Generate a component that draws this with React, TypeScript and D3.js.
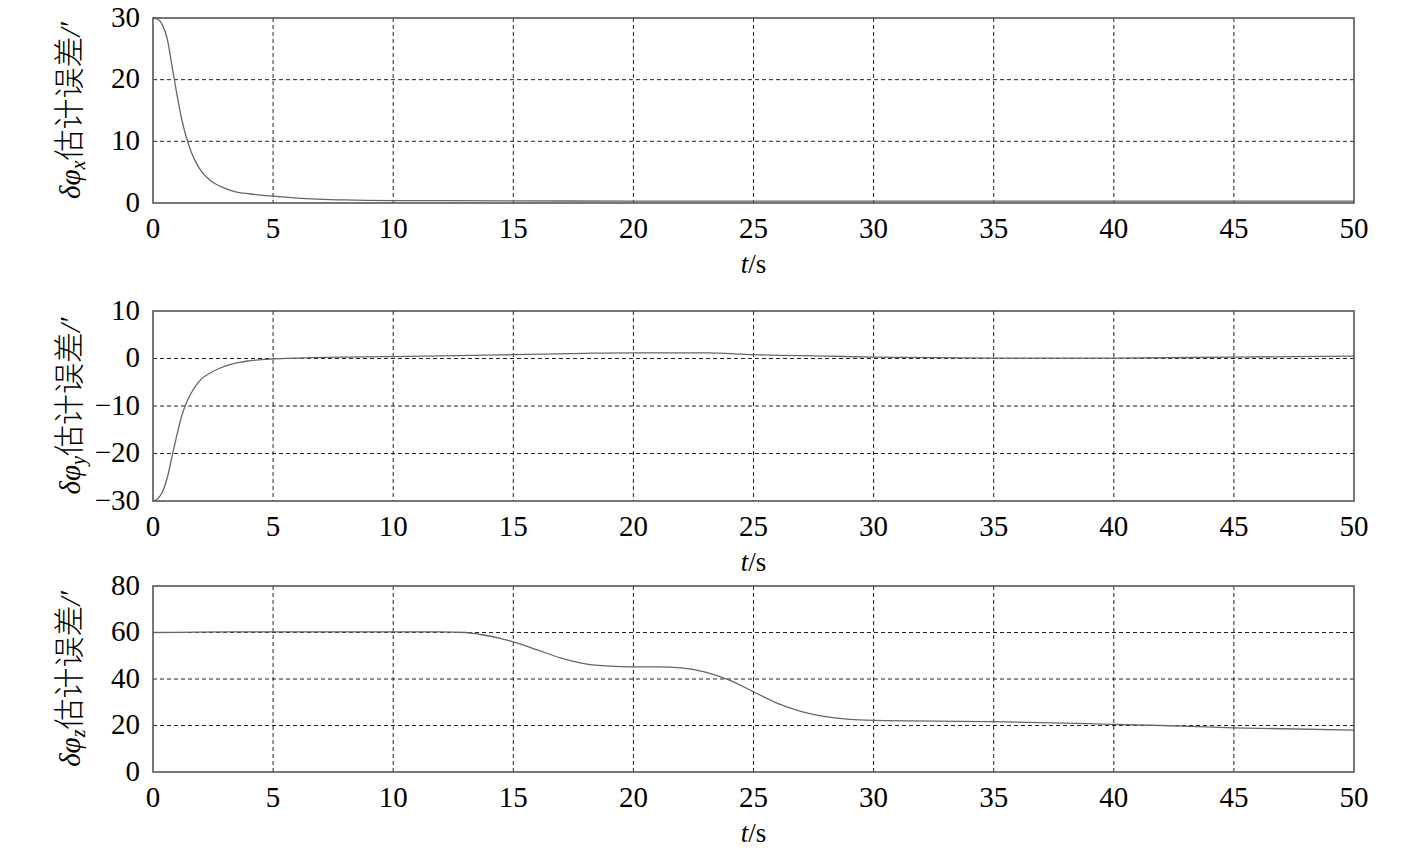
import React from 'react';
import * as d3 from 'd3';

// 时间轴 (s) 与三个失准角估计误差 (′)
const tX = [0, 0.2, 0.4, 0.6, 0.8, 1.0, 1.2, 1.4, 1.6, 1.8, 2.0, 2.4, 2.8, 3.2, 3.6, 4, 5, 6, 8, 10, 15, 20, 30, 40, 50];
const phiX = [30, 29.8, 28.8, 26.5, 22, 17.5, 13.5, 10.5, 8.2, 6.5, 5.2, 3.6, 2.7, 2.1, 1.7, 1.5, 1.1, 0.8, 0.5, 0.4, 0.35, 0.3, 0.3, 0.3, 0.3];

const tY = [0, 0.2, 0.4, 0.6, 0.8, 1.0, 1.2, 1.4, 1.6, 1.8, 2.0, 2.4, 2.8, 3.2, 3.6, 4, 5, 6, 8, 10, 15, 18, 20, 23, 25, 28, 30, 35, 40, 45, 50];
const phiY = [-30, -29.5, -28, -25, -20.5, -16, -12, -9.2, -7.2, -5.6, -4.4, -3, -2, -1.3, -0.8, -0.5, -0.1, 0.1, 0.3, 0.4, 0.8, 1.1, 1.2, 1.2, 0.8, 0.5, 0.3, 0.1, 0.1, 0.3, 0.5];

const tZ = [0, 3, 12, 13, 14, 15, 16, 17, 18, 19, 20, 21, 22, 23, 24, 25, 26, 27, 28, 29, 30, 35, 40, 42, 45, 50];
const phiZ = [60, 60.3, 60.3, 60, 58.5, 56, 52.5, 49, 46.5, 45.5, 45.2, 45.2, 44.8, 43, 39.5, 34.5, 29.5, 26, 23.8, 22.6, 22.2, 21.7, 20.5, 20, 19, 18];

const xTicks = [0, 5, 10, 15, 20, 25, 30, 35, 40, 45, 50];
const yTicksX = [0, 10, 20, 30];
const yTicksY = [-30, -20, -10, 0, 10];
const yTicksZ = [0, 20, 40, 60, 80];

const W = 1417;
const H = 849;
const LEFT = 153;
const RIGHT = 1354;
const serif = "'Liberation Serif', 'Times New Roman', 'DejaVu Serif', serif";
const cjk = "'Noto Sans CJK SC', sans-serif";

type PanelProps = {
  t: number[];
  v: number[];
  sub: string;
  domain: [number, number];
  yTicks: number[];
  top: number;
  bottom: number;
};

const fmt = (d: number) => (d < 0 ? '\u2212' + Math.abs(d) : String(d));

const Panel = ({ t, v, sub, domain, yTicks, top, bottom }: PanelProps) => {
  const x = d3.scaleLinear().domain([0, 50]).range([LEFT, RIGHT]);
  const y = d3.scaleLinear().domain(domain).range([bottom, top]);
  const line = d3
    .line<number>()
    .x((_, i) => x(t[i]))
    .y((d) => y(d))
    .curve(d3.curveMonotoneX);
  const mid = (top + bottom) / 2;

  return (
    <g>
      {/* 网格 */}
      {xTicks.slice(1, -1).map((d) => (
        <line key={'gx' + d} x1={x(d)} x2={x(d)} y1={top} y2={bottom}
          stroke="#222" strokeWidth={1} strokeDasharray="4,3" />
      ))}
      {yTicks.slice(1, -1).map((d) => (
        <line key={'gy' + d} x1={LEFT} x2={RIGHT} y1={y(d)} y2={y(d)}
          stroke="#222" strokeWidth={1} strokeDasharray="4,3" />
      ))}
      <path d={line(v) || ''} fill="none" stroke="#666" strokeWidth={1.3} />
      <rect x={LEFT} y={top} width={RIGHT - LEFT} height={bottom - top}
        fill="none" stroke="#555" strokeWidth={1.6} />

      {/* 刻度标签 */}
      {xTicks.map((d) => (
        <text key={'xt' + d} x={x(d)} y={bottom + 28} textAnchor="middle"
          dominantBaseline="middle" style={{ fontFamily: serif }} fontSize={29} fill="#000">
          {d}
        </text>
      ))}
      {yTicks.map((d) => (
        <text key={'yt' + d} x={140} y={y(d) + 2} textAnchor="end"
          dominantBaseline="middle" style={{ fontFamily: serif }} fontSize={29} fill="#000">
          {fmt(d)}
        </text>
      ))}

      {/* 轴标题 */}
      <text x={(LEFT + RIGHT) / 2} y={bottom + 64} textAnchor="middle"
        dominantBaseline="middle" style={{ fontFamily: serif }} fontSize={27} fill="#000">
        <tspan fontStyle="italic">t</tspan>/s
      </text>
      <text transform={`translate(80,${mid}) rotate(-90)`} textAnchor="middle"
        style={{ fontFamily: serif }} fontSize={29} fill="#000">
        <tspan fontStyle="italic">δφ</tspan>
        <tspan fontStyle="italic" fontSize={20} dy={5}>{sub}</tspan>
        <tspan style={{ fontFamily: cjk }} fontWeight={300} fontSize={31} dy={-5}>估计误差</tspan>
        <tspan fontStyle="italic">/′</tspan>
      </text>
    </g>
  );
};

export default function App() {
  return (
    <svg width={W} height={H} style={{ position: 'absolute', left: 0, top: 0, background: '#fff' }}>
      <rect width={W} height={H} fill="#fff" />
      <Panel t={tX} v={phiX} sub="x" domain={[0, 30]} yTicks={yTicksX} top={18} bottom={203} />
      <Panel t={tY} v={phiY} sub="y" domain={[-30, 10]} yTicks={yTicksY} top={311} bottom={501} />
      <Panel t={tZ} v={phiZ} sub="z" domain={[0, 80]} yTicks={yTicksZ} top={586} bottom={772} />
    </svg>
  );
}
